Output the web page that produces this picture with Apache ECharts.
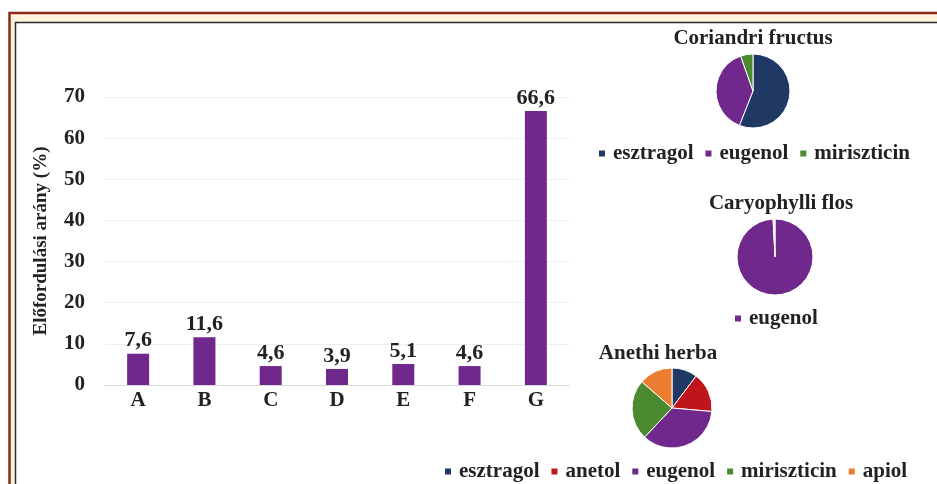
<!DOCTYPE html>
<html>
<head>
<meta charset="utf-8">
<script src="https://cdn.jsdelivr.net/npm/echarts@6/dist/echarts.min.js"></script>
<style>
  html, body { margin: 0; padding: 0; background: #fff; }
  #main { width: 937px; height: 484px; }
</style>
</head>
<body>
<div id="main"></div>
<script>
// oszlopdiagram adatai
var categories = ['A', 'B', 'C', 'D', 'E', 'F', 'G'];
var arany = [7.6, 11.6, 4.6, 3.9, 5.1, 4.6, 66.6];

// kordiagramok adatai
var corNames = ['esztragol', 'eugenol', 'miriszticin'];
var corValues = [56, 38.6, 5.4];
var caryNames = ['eugenol', ''];
var caryValues = [99.2, 0.8];
var anethNames = ['esztragol', 'anetol', 'eugenol', 'miriszticin', 'apiol'];
var anethValues = [10.3, 16.1, 35.6, 24.4, 13.6];

var colors = {
  esztragol: '#203864',
  anetol: '#c0141c',
  eugenol: '#70288c',
  miriszticin: '#4c8a30',
  apiol: '#ed7d31',
  '': '#efe8f2'
};

var font = 'Liberation Serif';

function pieData(names, values) {
  var out = [];
  for (var i = 0; i < names.length; i++) {
    out.push({ name: names[i], value: values[i], itemStyle: { color: colors[names[i]] } });
  }
  return out;
}

function pieSeries(names, values, cx, cy, r) {
  return {
    type: 'pie',
    center: [cx, cy],
    radius: r,
    startAngle: 90,
    clockwise: true,
    label: { show: false },
    labelLine: { show: false },
    emphasis: { disabled: true },
    itemStyle: { borderColor: '#fff', borderWidth: 1 },
    data: pieData(names, values)
  };
}

function legend(names, x, y) {
  return {
    data: names,
    left: x,
    top: y,
    icon: 'rect',
    itemWidth: 8,
    itemHeight: 8,
    itemGap: 10,
    padding: 0,
    selectedMode: false,
    textStyle: { fontFamily: font, fontWeight: 'bold', fontSize: 21, color: '#222', padding: [0, 0, 0, 2] }
  };
}

function title(text, x, y) {
  return {
    text: text,
    left: x,
    top: y,
    padding: 0,
    textAlign: 'center',
    textStyle: { fontFamily: font, fontWeight: 'bold', fontSize: 21, color: '#222' }
  };
}

var chart = echarts.init(document.getElementById('main'));
var option = {
  animation: false,
  backgroundColor: '#fff',
  graphic: [
    { type: 'rect', z: -10, shape: { x: 9.5, y: 13, width: 1000, height: 1000 },
      style: { fill: '#fcf4dc', stroke: '#8b2a1a', lineWidth: 2.5 } },
    { type: 'rect', z: -9, shape: { x: 15.5, y: 22.5, width: 1000, height: 1000 },
      style: { fill: '#fff', stroke: '#2a2a2a', lineWidth: 1.5 } }
  ],
  title: [
    title('Coriandri fructus', 753, 28),
    title('Caryophylli flos', 781, 193),
    title('Anethi herba', 658, 343)
  ],
  legend: [
    legend(['esztragol', 'eugenol', 'miriszticin'], 597, 143),
    legend(['eugenol'], 733, 308),
    legend(['esztragol', 'anetol', 'eugenol', 'miriszticin', 'apiol'], 443, 461)
  ],
  grid: { left: 105, right: 368, top: 97, bottom: 99 },
  xAxis: {
    type: 'category',
    data: categories,
    axisLine: { lineStyle: { color: '#d9d9d9' } },
    axisTick: { show: false },
    axisLabel: { margin: 5, fontFamily: font, fontWeight: 'bold', fontSize: 21, color: '#222' }
  },
  yAxis: {
    type: 'value',
    min: 0,
    max: 70,
    interval: 10,
    name: 'Előfordulási arány (%)',
    nameLocation: 'middle',
    nameGap: 54,
    nameTextStyle: { fontFamily: font, fontWeight: 'bold', fontSize: 19, color: '#222' },
    axisLine: { show: false },
    axisTick: { show: false },
    splitLine: { lineStyle: { color: '#eeeeee' } },
    axisLabel: { margin: 20, fontFamily: font, fontWeight: 'bold', fontSize: 21, color: '#222' }
  },
  series: [
    {
      type: 'bar',
      data: arany,
      barWidth: 22,
      itemStyle: { color: '#70288c' },
      label: {
        show: true,
        position: 'top',
        distance: 2,
        fontFamily: font,
        fontWeight: 'bold',
        fontSize: 22,
        color: '#222',
        formatter: function (p) { return String(p.value).replace('.', ','); }
      }
    },
    pieSeries(corNames, corValues, 753, 91, 37),
    pieSeries(caryNames, caryValues, 775, 257, 38),
    pieSeries(anethNames, anethValues, 672, 408, 40)
  ]
};
chart.setOption(option);
</script>
</body>
</html>
